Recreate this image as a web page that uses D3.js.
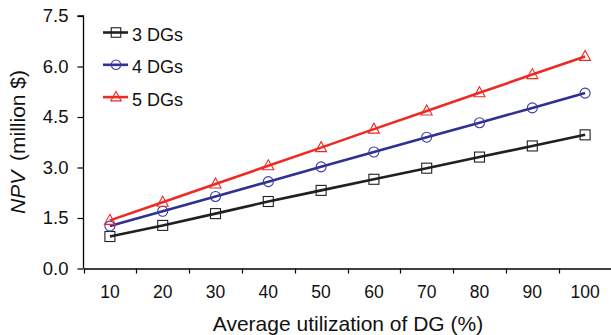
<!DOCTYPE html>
<html><head><meta charset="utf-8">
<script src="https://cdn.jsdelivr.net/npm/d3@7"></script>
<style>body{margin:0;background:#fff}svg{display:block;font-family:"Liberation Sans",Arial,sans-serif}</style>
</head><body>
<svg id="c" width="611" height="335"></svg>
<script>
const categories = [10,20,30,40,50,60,70,80,90,100];
const dg3 = [0.95,1.28,1.63,1.99,2.32,2.65,2.98,3.31,3.64,3.97];
const dg4 = [1.26,1.70,2.14,2.58,3.02,3.46,3.90,4.33,4.77,5.21];
const dg5 = [1.43,1.97,2.51,3.05,3.59,4.14,4.68,5.22,5.76,6.30];
const yTicks = [0,1.5,3.0,4.5,6.0,7.5];
const seriesNames = ["3 DGs","4 DGs","5 DGs"];

const svg = d3.select("#c");
const L=83.5, R=611.5, T=16, B=268.5;
const x = d3.scaleBand().domain(categories).range([L,R]);
const y = d3.scaleLinear().domain([0,7.5]).range([B,T]);
const FF = "Liberation Sans, Arial, sans-serif";

const xAxis = svg.append("g").attr("transform",`translate(0,${B})`)
  .call(d3.axisBottom(x).tickSize(0).tickPadding(12));
xAxis.select(".domain").attr("stroke","#000").attr("stroke-width",1.3);
xAxis.selectAll(".tick text").attr("font-size",17.5).attr("fill","#111").attr("font-family",FF)
  .attr("dy",null).attr("y",29);
xAxis.selectAll(".bt").data(categories).enter().append("line")
  .attr("x1",d=>Math.round(x(d))+0.5).attr("x2",d=>Math.round(x(d))+0.5).attr("y1",0).attr("y2",5)
  .attr("stroke","#000").attr("stroke-width",1.2);

const yAxis = svg.append("g").attr("transform",`translate(${L},0)`)
  .call(d3.axisLeft(y).tickValues(yTicks).tickFormat(d3.format(".1f")).tickSize(6).tickPadding(9));
yAxis.select(".domain").attr("stroke","#000").attr("stroke-width",1.3).attr("d",`M-6,${T}H0V${B}`);
yAxis.selectAll("line").attr("stroke","#000").attr("stroke-width",1.2);
yAxis.selectAll("text").attr("font-size",18.5).attr("fill","#111").attr("font-family",FF);

svg.append("text").attr("x",348).attr("y",331).attr("text-anchor","middle")
  .attr("font-size",21).attr("fill","#111").text("Average utilization of DG (%)");
const yt = svg.append("text").attr("transform","translate(25,142) rotate(-90)").attr("text-anchor","middle")
  .attr("font-size",21).attr("fill","#111");
yt.append("tspan").attr("font-style","italic").text("NPV");
yt.append("tspan").attr("dx",4).text(" (million $)");

const series = [
  {name:seriesNames[0], vals:dg3, color:"#231f20", mcolor:"#231f20", shape:"square"},
  {name:seriesNames[1], vals:dg4, color:"#2e3192", mcolor:"#3a3aa8", shape:"circle"},
  {name:seriesNames[2], vals:dg5, color:"#ee2a24", mcolor:"#ee2a24", shape:"triangle"}
];
const cx = d => x(d)+x.bandwidth()/2;
const line = d3.line().x((d,i)=>cx(categories[i])).y(d=>y(d));

function marker(g, shape, color, s){
  if(shape==="square") g.append("rect").attr("x",-5*s).attr("y",-5*s).attr("width",10*s).attr("height",10*s)
    .attr("fill","none").attr("stroke",color).attr("stroke-width",1.1);
  else if(shape==="circle") g.append("circle").attr("r",5*s).attr("fill","none").attr("stroke",color).attr("stroke-width",1.1);
  else g.append("path").attr("d",`M0,${-6*s}L${5.5*s},${4*s}H${-5.5*s}Z`).attr("fill","none").attr("stroke",color).attr("stroke-width",1.1);
}

series.forEach(s=>{
  svg.append("path").datum(s.vals).attr("d",line).attr("fill","none").attr("stroke",s.color).attr("stroke-width",2.6);
  s.vals.forEach((v,i)=>{
    const g = svg.append("g").attr("transform",`translate(${cx(categories[i])},${y(v)})`);
    marker(g,s.shape,s.mcolor,1);
  });
});

series.forEach((s,i)=>{
  const ly = 32.5 + i*32.3;
  svg.append("line").attr("x1",103).attr("x2",128).attr("y1",ly).attr("y2",ly).attr("stroke",s.color).attr("stroke-width",2.6);
  const g = svg.append("g").attr("transform",`translate(116,${ly})`);
  marker(g,s.shape,s.mcolor,0.95);
  svg.append("text").attr("x",132).attr("y",ly+8.5).attr("font-size",18).attr("fill","#111").text(s.name);
});
</script>
</body></html>
